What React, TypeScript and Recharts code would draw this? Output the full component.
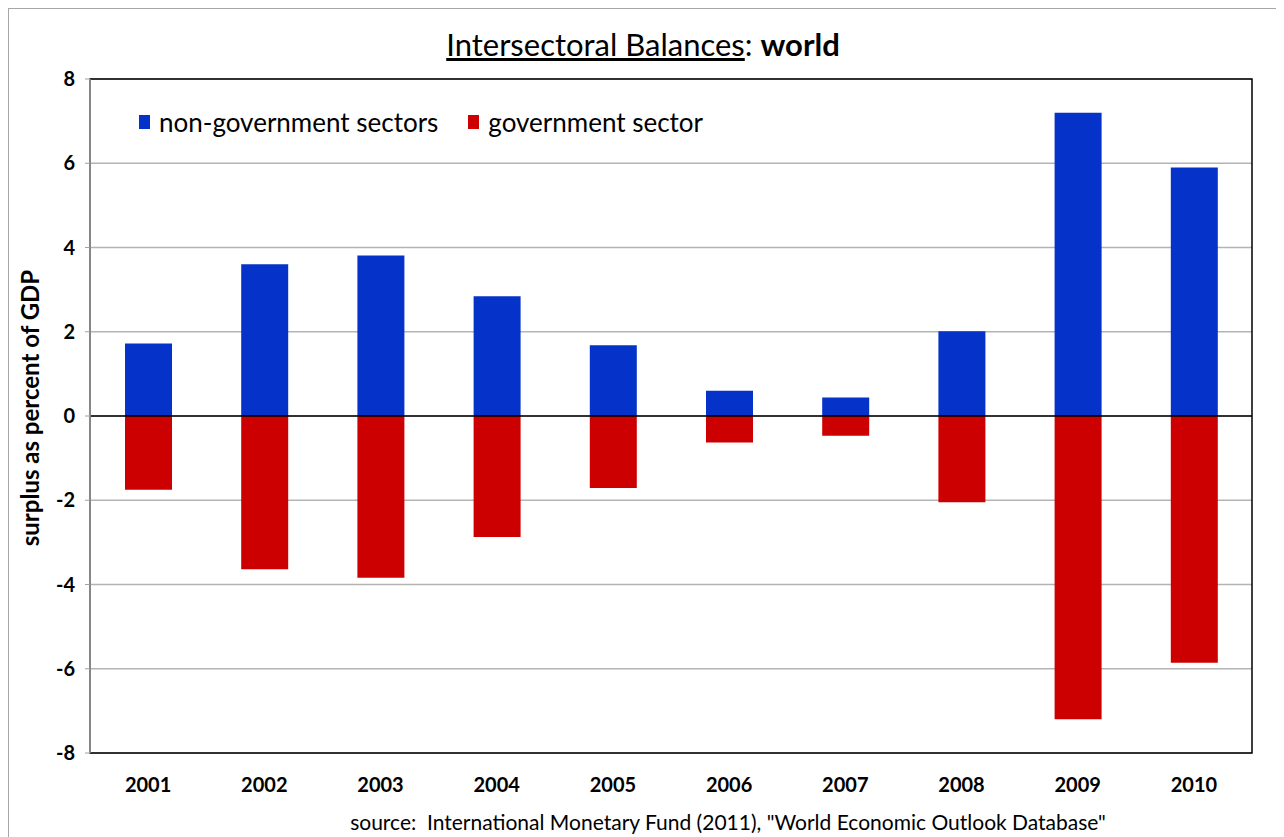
import {
  BarChart,
  Bar,
  XAxis,
  YAxis,
  CartesianGrid,
  Legend,
  ReferenceLine,
  ReferenceArea,
} from 'recharts'

const years = ['2001', '2002', '2003', '2004', '2005', '2006', '2007', '2008', '2009', '2010']
const nonGovernment = [1.72, 3.6, 3.81, 2.84, 1.68, 0.6, 0.44, 2.01, 7.2, 5.9]
const government = [-1.75, -3.64, -3.84, -2.87, -1.71, -0.63, -0.47, -2.05, -7.2, -5.86]
const yTicks = [-8, -6, -4, -2, 0, 2, 4, 6, 8]
const seriesNames = ['non-government sectors', 'government sector']

const FONT = 'Lato, "Open Sans", sans-serif'
const BLUE = '#0532c8'
const RED = '#cc0000'

const data = years.map((year, i) => ({
  year,
  nonGov: nonGovernment[i],
  gov: government[i],
}))

// recharts sorts legend items by name, put them back in series order
const LegendContent = ({ payload }: any) => {
  const items = [...(payload || [])].sort(
    (a: any, b: any) => seriesNames.indexOf(a.value) - seriesNames.indexOf(b.value)
  )
  return (
    <div style={{ display: 'flex', alignItems: 'center', fontFamily: FONT, fontSize: 26, color: '#000' }}>
      {items.map((p: any) => (
        <span key={p.value} style={{ display: 'flex', alignItems: 'center', marginRight: 30 }}>
          <span style={{ width: 11, height: 14, background: p.color, marginRight: 9 }} />
          {p.value}
        </span>
      ))}
    </div>
  )
}

const YLabel = (props: any) => {
  const vb = props.viewBox
  const x = vb.x - 1
  const y = vb.y + vb.height / 2 - 8
  return (
    <text
      x={x}
      y={y}
      transform={`rotate(-90 ${x} ${y})`}
      textAnchor="middle"
      dominantBaseline="central"
      fontFamily={FONT}
      fontWeight="bold"
      fontSize={24}
      fill="#000"
    >
      surplus as percent of GDP
    </text>
  )
}

export default function App() {
  return (
    <div
      style={{
        position: 'relative',
        width: 1268,
        height: 830,
        border: '1px solid #a6a6a6',
        background: '#fff',
        fontFamily: FONT,
      }}
    >
      <div
        style={{
          position: 'absolute',
          top: 16,
          left: 634,
          transform: 'translateX(-50%)',
          fontSize: 31,
          whiteSpace: 'nowrap',
          color: '#000',
        }}
      >
        <span style={{ textDecoration: 'underline' }}>Intersectoral Balances</span>:{' '}
        <b>world</b>
      </div>
      <BarChart
        width={1268}
        height={830}
        data={data}
        stackOffset="sign"
        margin={{ top: 70, right: 25, left: 21, bottom: 46 }}
      >
        <CartesianGrid vertical={false} stroke="#b4b4b4" strokeWidth={1.5} />
        <ReferenceArea y1={-8} y2={8} fill="none" stroke="#000" strokeWidth={1.5} ifOverflow="visible" />
        <XAxis
          dataKey="year"
          axisLine={false}
          tickLine={false}
          tickMargin={19}
          tick={{ fontSize: 20, fontWeight: 'bold', fill: '#000', fontFamily: FONT }}
          height={40}
        />
        <YAxis
          domain={[-8, 8]}
          ticks={yTicks}
          width={60}
          axisLine={{ stroke: '#a0a0a0', strokeWidth: 1.5 }}
          tickLine={{ stroke: '#a0a0a0' }}
          tickSize={5}
          tickMargin={10}
          tick={{ fontSize: 20, fontWeight: 'bold', fill: '#000', fontFamily: FONT }}
          label={{ content: <YLabel /> }}
        />
        <Legend
          layout="horizontal"
          verticalAlign="middle"
          align="center"
          content={<LegendContent />}
          wrapperStyle={{ top: 97, left: 130, width: 'auto' }}
        />
        <Bar dataKey="nonGov" name="non-government sectors" stackId="a" fill={BLUE} barSize={47} isAnimationActive={false} />
        <Bar dataKey="gov" name="government sector" stackId="a" fill={RED} barSize={47} isAnimationActive={false} />
        <ReferenceLine y={0} stroke="#000" strokeWidth={1.5} />
      </BarChart>
      <div
        style={{
          position: 'absolute',
          top: 800,
          left: 719,
          transform: 'translateX(-50%)',
          fontSize: 21,
          whiteSpace: 'nowrap',
          color: '#000',
        }}
      >
        source:&nbsp; International Monetary Fund (2011), "World Economic Outlook Database"
      </div>
    </div>
  )
}
